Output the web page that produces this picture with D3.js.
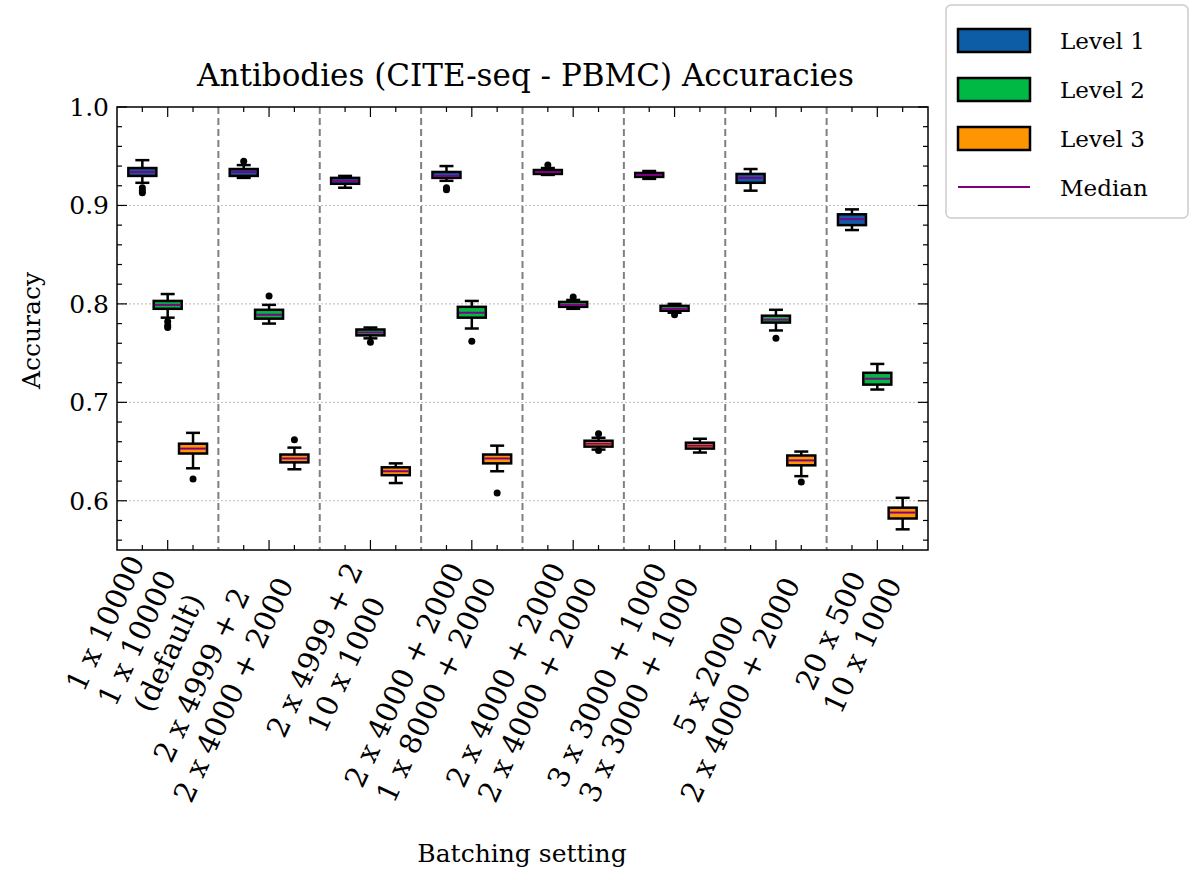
<!DOCTYPE html>
<html><head><meta charset="utf-8">
<script src="https://cdn.jsdelivr.net/npm/d3@7"></script>
<style>body{margin:0;background:#fff}text{font-family:"DejaVu Serif","Liberation Serif",serif}</style>
</head><body><svg width="1200" height="882"></svg>
<script>
// group labels (multi-line)
const groupLabels = [
  ['1 x 10000', '1 x 10000', '(default)'],
  ['2 x 4999 + 2', '2 x 4000 + 2000'],
  ['2 x 4999 + 2', '10 x 1000'],
  ['2 x 4000 + 2000', '1 x 8000 + 2000'],
  ['2 x 4000 + 2000', '2 x 4000 + 2000'],
  ['3 x 3000 + 1000', '3 x 3000 + 1000'],
  ['5 x 2000', '2 x 4000 + 2000'],
  ['20 x 500', '10 x 1000']
];
const levels = ['Level 1', 'Level 2', 'Level 3'];
const levelColors = ['#0C5DA5', '#00B945', '#FF9500'];
const yTicks = [0.6, 0.7, 0.8, 0.9, 1.0];
// [lower whisker, q1, median, q3, upper whisker, ...outliers]
const level1 = [
  [.923, .930, .934, .938, .946, .918, .915, .913],
  [.928, .930, .934, .937, .941, .945],
  [.918, .922, .925, .928, .930],
  [.925, .928, .930, .934, .940, .918, .916],
  [.931, .932, .934, .936, .938, .941],
  [.927, .929, .931, .933, .935],
  [.915, .923, .928, .932, .937],
  [.875, .880, .886, .891, .896]
];
const level2 = [
  [.786, .795, .799, .803, .810, .782, .778, .776],
  [.780, .785, .789, .794, .799, .808],
  [.765, .768, .771, .774, .776, .761],
  [.775, .786, .791, .797, .803, .762],
  [.795, .797, .799, .802, .804, .807],
  [.791, .793, .795, .798, .800, .789],
  [.773, .781, .784, .788, .794, .765],
  [.713, .718, .724, .730, .739]
];
const level3 = [
  [.633, .648, .653, .658, .669, .622],
  [.632, .639, .643, .647, .654, .662],
  [.618, .626, .630, .634, .638],
  [.630, .638, .643, .647, .656, .608],
  [.652, .655, .658, .661, .664, .668, .651],
  [.649, .653, .656, .659, .663],
  [.625, .636, .641, .646, .650, .619],
  [.571, .582, .588, .593, .603]
];
const series = [level1, level2, level3];

const svg = d3.select('svg');
const L = 117, R = 928, T = 107, B = 550;
const x = d3.scaleLinear().domain([0, 32]).range([L, R]);
const y = d3.scaleLinear().domain([0.55, 1.0]).range([B, T]);

// grid
svg.append('g').selectAll('line').data(yTicks.slice(0, 4)).join('line')
  .attr('x1', L).attr('x2', R).attr('y1', d => y(d)).attr('y2', d => y(d))
  .attr('stroke', '#bbb').attr('stroke-width', 1).attr('stroke-dasharray', '2,2');

// separators
svg.append('g').selectAll('line').data(d3.range(1, 8)).join('line')
  .attr('x1', d => x(d * 4)).attr('x2', d => x(d * 4)).attr('y1', T).attr('y2', B)
  .attr('stroke', '#808080').attr('stroke-width', 2).attr('stroke-dasharray', '7,4');

// boxes
const bw = 28;
series.forEach((lev, k) => {
  lev.forEach((d, g) => {
    const cx = x(g * 4 + k + 1);
    const gg = svg.append('g');
    gg.append('line').attr('x1', cx).attr('x2', cx).attr('y1', y(d[0])).attr('y2', y(d[4]))
      .attr('stroke', '#000').attr('stroke-width', 2.5);
    [d[0], d[4]].forEach(v => gg.append('line').attr('x1', cx - 7).attr('x2', cx + 7)
      .attr('y1', y(v)).attr('y2', y(v)).attr('stroke', '#000').attr('stroke-width', 2.5));
    gg.append('rect').attr('x', cx - bw / 2).attr('width', bw)
      .attr('y', y(d[3])).attr('height', y(d[1]) - y(d[3]))
      .attr('fill', levelColors[k]).attr('stroke', '#000').attr('stroke-width', 2.5);
    gg.append('line').attr('x1', cx - bw / 2 + 1).attr('x2', cx + bw / 2 - 1)
      .attr('y1', y(d[2])).attr('y2', y(d[2])).attr('stroke', 'purple').attr('stroke-width', 2);
    gg.selectAll('circle').data(d.slice(5)).join('circle')
      .attr('cx', cx).attr('cy', v => y(v)).attr('r', 3.5).attr('fill', '#000');
  });
});

// axes frame and ticks
svg.append('rect').attr('x', L).attr('y', T).attr('width', R - L).attr('height', B - T)
  .attr('fill', 'none').attr('stroke', '#000').attr('stroke-width', 1.5);
const minor = d3.range(0.56, 1.0, 0.02).filter(v => Math.abs(v * 10 - Math.round(v * 10)) > 1e-6);
const tk = svg.append('g').attr('stroke', '#000').attr('stroke-width', 1.2);
yTicks.forEach(v => {
  tk.append('line').attr('x1', L).attr('x2', L + 10).attr('y1', y(v)).attr('y2', y(v));
  tk.append('line').attr('x1', R).attr('x2', R - 10).attr('y1', y(v)).attr('y2', y(v));
});
minor.forEach(v => {
  tk.append('line').attr('x1', L).attr('x2', L + 5).attr('y1', y(v)).attr('y2', y(v));
  tk.append('line').attr('x1', R).attr('x2', R - 5).attr('y1', y(v)).attr('y2', y(v));
});
d3.range(1, 32).filter(i => i % 4 !== 0).forEach(i => {
  const len = i % 4 === 2 ? 10 : 5;
  tk.append('line').attr('x1', x(i)).attr('x2', x(i)).attr('y1', B).attr('y2', B - len);
  tk.append('line').attr('x1', x(i)).attr('x2', x(i)).attr('y1', T).attr('y2', T + len);
});
svg.append('g').selectAll('text').data(yTicks).join('text')
  .attr('x', L - 8).attr('y', d => y(d) + 9).attr('text-anchor', 'end')
  .attr('font-size', 25).text(d => d.toFixed(1));

// x labels
const fs = 29, lh = 35;
groupLabels.forEach((lines, g) => {
  const cx = x(g * 4 + 2);
  const gl = svg.append('g').attr('transform', `translate(${cx},572) rotate(-65)`);
  const ts = lines.map((s, i) => gl.append('text').attr('font-size', fs)
    .attr('text-anchor', 'middle').attr('y', (i - (lines.length - 1) / 2) * lh + 10).text(s));
  const w = d3.max(ts, t => t.node().getComputedTextLength());
  ts.forEach(t => t.attr('x', -w / 2));
});

// titles
svg.append('text').attr('x', (L + R) / 2 + 3).attr('y', 86).attr('text-anchor', 'middle')
  .attr('font-size', 31).text('Antibodies (CITE-seq - PBMC) Accuracies');
svg.append('text').attr('transform', `translate(40,${(T + B) / 2 + 2}) rotate(-90)`)
  .attr('text-anchor', 'middle').attr('font-size', 25).text('Accuracy');
svg.append('text').attr('x', 522).attr('y', 862).attr('text-anchor', 'middle')
  .attr('font-size', 25).text('Batching setting');

// legend
const lg = svg.append('g');
lg.append('rect').attr('x', 946).attr('y', 5).attr('width', 242).attr('height', 213).attr('rx', 5)
  .attr('fill', '#fff').attr('stroke', '#ccc').attr('stroke-width', 1.5);
levels.forEach((s, i) => {
  const yy = 40 + i * 49;
  lg.append('rect').attr('x', 958).attr('y', yy - 11).attr('width', 72).attr('height', 23)
    .attr('fill', levelColors[i]).attr('stroke', '#000').attr('stroke-width', 2.5);
  lg.append('text').attr('x', 1060).attr('y', yy + 9).attr('font-size', 23).text(s);
});
lg.append('line').attr('x1', 958).attr('x2', 1030).attr('y1', 187).attr('y2', 187)
  .attr('stroke', 'purple').attr('stroke-width', 2);
lg.append('text').attr('x', 1060).attr('y', 196).attr('font-size', 23).text('Median');
</script></body></html>
